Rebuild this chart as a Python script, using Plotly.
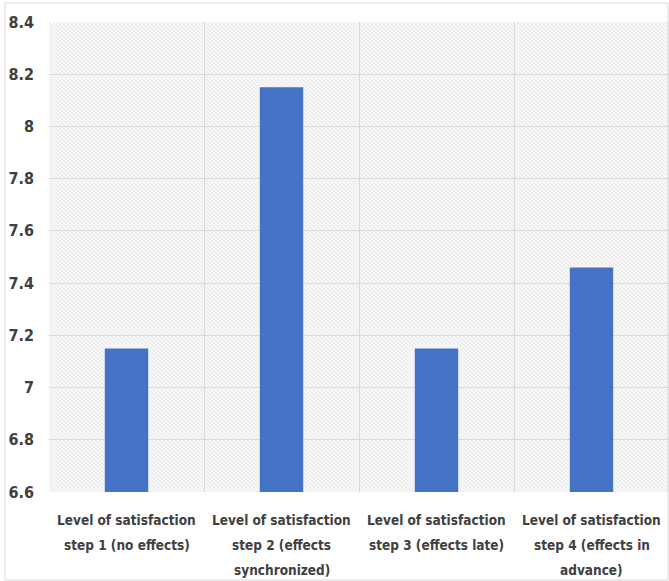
import plotly.graph_objects as go
import base64

categories = [
    "Level of satisfaction<br>step 1 (no effects)",
    "Level of satisfaction<br>step 2 (effects<br>synchronized)",
    "Level of satisfaction<br>step 3 (effects late)",
    "Level of satisfaction<br>step 4 (effects in<br>advance)",
]
values = [7.15, 8.15, 7.15, 7.46]
y_ticks = [6.6, 6.8, 7.0, 7.2, 7.4, 7.6, 7.8, 8.0, 8.2, 8.4]
y_tick_labels = ["6.6", "6.8", "7", "7.2", "7.4", "7.6", "7.8", "8", "8.2", "8.4"]

font_family = "DejaVu Sans Condensed, Liberation Sans Narrow, sans-serif"
text_color = "#404040"

svg = ('<svg xmlns="http://www.w3.org/2000/svg" width="620" height="470">'
       '<defs><pattern id="p" width="4" height="4" patternUnits="userSpaceOnUse">'
       '<rect width="4" height="4" fill="#f8f8f8"/>'
       '<path d="M-1,-1 L5,5 M-1,3 L1,5 M3,-1 L5,1" stroke="#e6e6e6" stroke-width="1"/>'
       '</pattern></defs><rect width="620" height="470" fill="url(#p)"/></svg>')
src = "data:image/svg+xml;base64," + base64.b64encode(svg.encode()).decode()

fig = go.Figure()
fig.add_trace(go.Bar(
    x=categories, y=values, marker=dict(color="#4472C4", line=dict(width=0)),
    width=0.28, hoverinfo="skip",
))

# category labels, one annotation per line for the wider line spacing
annotations = []
for cat in categories:
    for i, line in enumerate(cat.split("<br>")):
        annotations.append(dict(
            x=cat, xref="x", y=0, yref="paper", text=line, showarrow=False,
            xanchor="center", yanchor="middle", yshift=-(28 + 25 * i),
            font=dict(family=font_family, size=13.5, color=text_color, weight="bold"),
        ))

fig.update_layout(
    width=669, height=581,
    margin=dict(l=49, r=0, t=22, b=89, autoexpand=False),
    paper_bgcolor="white",
    plot_bgcolor="rgba(0,0,0,0)",
    showlegend=False,
    font=dict(family=font_family, color=text_color, size=14),
    annotations=annotations,
    images=[dict(source=src, xref="paper", yref="paper", x=0, y=1,
                 sizex=1, sizey=1, xanchor="left", yanchor="top",
                 sizing="stretch", layer="below")],
    shapes=[dict(type="rect", xref="paper", yref="paper",
                 x0=-44/620, x1=1.0 - 1/620, y0=-88/470, y1=1 + 19/470,
                 line=dict(color="#d9d9d9", width=1), layer="below")],
)
fig.update_xaxes(
    type="category", tickson="boundaries", showgrid=True, gridcolor="#d9d9d9",
    gridwidth=1, ticks="", showline=False, zeroline=False, automargin=False,
    showticklabels=False,
)
fig.update_yaxes(
    range=[6.6, 8.4], tickvals=y_ticks, ticktext=y_tick_labels,
    showgrid=True, gridcolor="#d9d9d9", gridwidth=1, zeroline=False,
    showline=False, ticks="", ticklabelstandoff=14, automargin=False,
    tickfont=dict(family=font_family, size=16, color=text_color, weight="bold"),
)
fig.write_html("out.html", config={"displayModeBar": False},
               post_script="document.body.style.margin='0';")
